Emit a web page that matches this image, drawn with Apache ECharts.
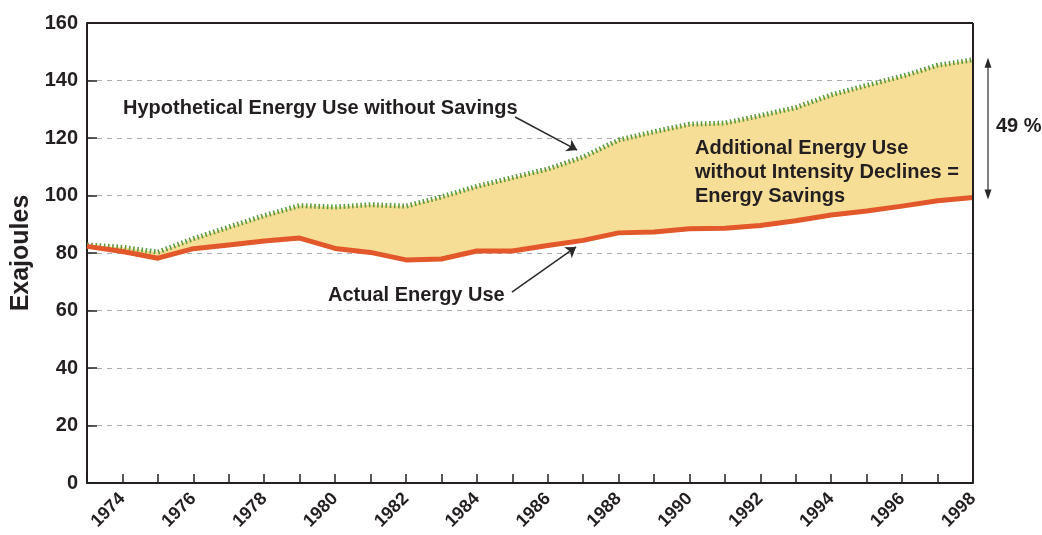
<!DOCTYPE html>
<html>
<head>
<meta charset="utf-8">
<script src="https://cdn.jsdelivr.net/npm/echarts@6/dist/echarts.min.js"></script>
<style>
html,body{margin:0;padding:0;background:#fff;}
#chart{width:1042px;height:535px;}
</style>
</head>
<body>
<div id="chart"></div>
<script>
const years = [1973,1974,1975,1976,1977,1978,1979,1980,1981,1982,1983,1984,1985,1986,1987,1988,1989,1990,1991,1992,1993,1994,1995,1996,1997,1998];
const actualUse = [82.3,80.5,78.2,81.5,82.8,84.2,85.2,81.6,80.2,77.6,77.9,80.7,80.7,82.6,84.4,87.0,87.3,88.4,88.6,89.6,91.2,93.2,94.6,96.3,98.2,99.3];
const hypotheticalUse = [82.8,82.0,80.3,85.0,89.0,93.0,96.5,96.0,96.8,96.3,99.5,103.2,106.2,109.2,113.4,119.3,122.2,124.8,125.2,127.8,130.6,135.0,138.3,141.5,145.3,147.2];
const yTicks = [0,20,40,60,80,100,120,140,160];
const savingsLabel = '49 %';

const FONT = "'Liberation Sans', Arial, Helvetica, sans-serif";
const TXT = '#231f20';

const actualPts = years.map((y,i)=>[y, actualUse[i]]);
const hypPts = years.map((y,i)=>[y, hypotheticalUse[i]]);
const gapVals = years.map((y,i)=>+(hypotheticalUse[i]-actualUse[i]).toFixed(2));

const chart = echarts.init(document.getElementById('chart'), null, {renderer:'canvas'});

const option = {
  animation: false,
  backgroundColor: '#fff',
  grid: {left: 87, right: 69, top: 23, bottom: 52, show: false},
  xAxis: [{
    type: 'value', min: years[0], max: years[years.length-1], interval: 1,
    axisLine: {show: true, lineStyle: {color: TXT, width: 2}},
    axisTick: {show: true, inside: true, length: 9, lineStyle: {color: TXT, width: 1.5}},
    splitLine: {show: false},
    axisLabel: {
      rotate: 45, margin: 13, color: TXT, fontFamily: FONT, fontWeight: 'bold', fontSize: 18,
      formatter: v => (v % 2 === 0 ? String(v) : '')
    }
  }, {
    type: 'category', data: years.map(String), boundaryGap: false, show: false
  }],
  yAxis: {
    type: 'value', min: yTicks[0], max: yTicks[yTicks.length-1], interval: 20,
    name: 'Exajoules', nameLocation: 'middle', nameGap: 45,
    nameTextStyle: {color: TXT, fontFamily: FONT, fontWeight: 'bold', fontSize: 25},
    axisLine: {show: true, lineStyle: {color: TXT, width: 2}},
    axisTick: {show: true, inside: true, length: 10, lineStyle: {color: TXT, width: 1.5}},
    splitLine: {show: true, lineStyle: {color: '#a9acb2', type: [5, 5], width: 1}},
    axisLabel: {color: TXT, fontFamily: FONT, fontWeight: 'bold', fontSize: 20, margin: 9}
  },
  series: [
    {
      name: 'base', type: 'line', xAxisIndex: 1, stack: 'gap', data: actualUse, symbol: 'none',
      lineStyle: {opacity: 0}, silent: true, z: 1
    },
    {
      name: 'savings', type: 'line', xAxisIndex: 1, stack: 'gap', data: gapVals, symbol: 'none',
      lineStyle: {opacity: 0}, areaStyle: {color: '#f6de97', opacity: 1}, silent: true, z: 1
    },
    {
      name: 'Hypothetical Energy Use without Savings', type: 'line', data: hypPts, symbol: 'none',
      lineStyle: {color: '#5e9a3c', width: 5, type: [1.6, 2.6], cap: 'butt'}, z: 3
    },
    {
      name: 'Actual Energy Use', type: 'line', data: actualPts, symbol: 'none',
      lineStyle: {color: '#e2582a', width: 5, join: 'round'}, z: 4,
      markLine: {
        silent: true, symbol: ['none', 'arrow'], symbolSize: 10,
        label: {show: false},
        lineStyle: {color: '#2a2a2a', width: 1.5, type: 'solid'},
        data: [
          [{coord: [1985.08, 127.3]}, {coord: [1986.83, 115.8]}],
          [{coord: [1984.99, 66.4]}, {coord: [1986.8, 82.1]}]
        ]
      }
    }
  ]
};
chart.setOption(option);

const last = years.length - 1;
const pTop = chart.convertToPixel({gridIndex: 0}, [years[last], hypotheticalUse[last]]);
const pBot = chart.convertToPixel({gridIndex: 0}, [years[last], actualUse[last]]);
const corner = chart.convertToPixel({gridIndex: 0}, [years[last], yTicks[yTicks.length-1]]);
const origin = chart.convertToPixel({gridIndex: 0}, [years[0], yTicks[0]]);
const ax = pTop[0] + 15;
const y1 = pTop[1] - 2, y2 = pBot[1] + 2;

const txtStyle = (text, x, y) => ({
  type: 'text', left: x, top: y, z: 10,
  style: {text: text, fill: TXT, font: 'bold 20px ' + FONT, lineHeight: 24}
});

chart.setOption({
  graphic: [
    {type: 'line', z: 10, shape: {x1: origin[0], y1: corner[1], x2: corner[0], y2: corner[1]}, style: {stroke: TXT, lineWidth: 2}},
    {type: 'line', z: 10, shape: {x1: corner[0], y1: corner[1], x2: corner[0], y2: origin[1]}, style: {stroke: TXT, lineWidth: 2}},
    txtStyle('Hypothetical Energy Use without Savings', 123, 96),
    txtStyle('Actual Energy Use', 328, 283),
    txtStyle('Additional Energy Use\nwithout Intensity Declines =\nEnergy Savings', 695, 136),
    {type: 'line', shape: {x1: ax, y1: y1 + 6, x2: ax, y2: y2 - 6}, style: {stroke: '#2a2a2a', lineWidth: 1.2}},
    {type: 'polygon', shape: {points: [[ax, y1], [ax - 3.5, y1 + 10], [ax + 3.5, y1 + 10]]}, style: {fill: '#2a2a2a'}},
    {type: 'polygon', shape: {points: [[ax, y2], [ax - 3.5, y2 - 10], [ax + 3.5, y2 - 10]]}, style: {fill: '#2a2a2a'}},
    {type: 'text', left: ax + 8, top: (y1 + y2) / 2 - 12,
     style: {text: savingsLabel, fill: TXT, font: 'bold 20px ' + FONT}}
  ]
});
</script>
</body>
</html>
